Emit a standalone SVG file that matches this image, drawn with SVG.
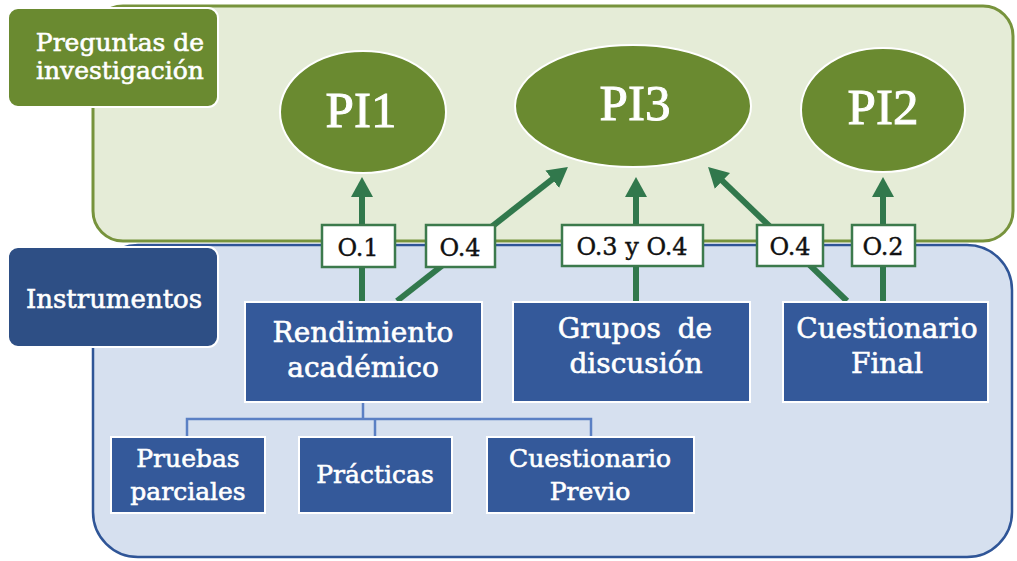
<svg xmlns="http://www.w3.org/2000/svg" width="1017" height="561" viewBox="0 0 1017 561">
<style>
.panelG{fill:#e5ecd7;stroke:#77933c;stroke-width:3}
.panelB{fill:#d6e0ef;stroke:#2f5597;stroke-width:2.5}
.lblG{fill:#6a8a30;stroke:#fff;stroke-width:2}
.lblB{fill:#2e4f85;stroke:#fff;stroke-width:2}
.ell{fill:#6a8a30;stroke:#fff;stroke-width:2}
.box{fill:#34599a;stroke:#fff;stroke-width:2}
.obox{fill:#fff;stroke:#3c7a4c;stroke-width:2.5}
.arrow{stroke:#31784c;stroke-width:6;fill:none;marker-end:url(#ah)}
.thin{stroke:#5b80c4;stroke-width:2.5;fill:none}
.tw{fill:#fff;stroke:#fff;stroke-width:0.6;font-family:"DejaVu Serif","Liberation Serif",serif;text-anchor:middle}
.big{fill:#fff;stroke:#fff;stroke-width:1;font-family:"Liberation Serif",serif;font-size:51px;text-anchor:middle}
.to{fill:#111;stroke:#111;stroke-width:0.4;font-family:"DejaVu Serif","Liberation Serif",serif;font-size:24px;text-anchor:middle}
</style>
<defs>
<marker id="ah" markerUnits="userSpaceOnUse" markerWidth="22" markerHeight="24" refX="8" refY="12" orient="auto" viewBox="0 0 22 24">
<path d="M0,1 L20,12 L0,23 Z" fill="#31784c"/>
</marker>
</defs>
<g id="panel-instrumentos">
<rect class="panelB" x="93" y="245" width="919" height="312" rx="45" ry="45"/>
</g>
<g id="panel-preguntas">
<rect class="panelG" x="93" y="6" width="920" height="235" rx="30" ry="30"/>
</g>
<g id="label-preguntas">
<rect class="lblG" x="8" y="8" width="210" height="99" rx="10" ry="10"/>
<text class="tw" x="120" y="51" font-size="25">Preguntas de</text>
<text class="tw" x="120" y="79" font-size="25">investigación</text>
</g>
<g id="label-instrumentos">
<rect class="lblB" x="8" y="247" width="210" height="100" rx="10" ry="10"/>
<text class="tw" x="114" y="308" font-size="26">Instrumentos</text>
</g>
<g id="PI1">
<ellipse class="ell" cx="363" cy="112" rx="83" ry="61"/>
<text class="big" x="361" y="127">PI1</text>
</g>
<g id="PI3">
<ellipse class="ell" cx="633" cy="106" rx="118" ry="61"/>
<text class="big" x="635" y="120">PI3</text>
</g>
<g id="PI2">
<ellipse class="ell" cx="883" cy="110" rx="82" ry="62"/>
<text class="big" x="883" y="124">PI2</text>
</g>
<g id="connectors">
<line class="arrow" x1="362" y1="302" x2="362" y2="189"/>
<line class="arrow" x1="397" y1="301" x2="558.5" y2="174.3"/>
<line class="arrow" x1="636" y1="302" x2="636" y2="189"/>
<line class="arrow" x1="847" y1="301" x2="716.7" y2="175.3"/>
<line class="arrow" x1="883" y1="302" x2="883" y2="189"/>
<path class="thin" d="M363,402 V419 M187,437 V419 H591 V437 M375,419 V437"/>
</g>
<g id="O1">
<rect class="obox" x="322" y="225" width="73" height="42"/>
<text class="to" x="358" y="256">O.1</text>
</g>
<g id="O4a">
<rect class="obox" x="426" y="225" width="69" height="42"/>
<text class="to" x="460" y="256">O.4</text>
</g>
<g id="O3yO4">
<rect class="obox" x="562" y="225" width="141" height="41"/>
<text class="to" x="632" y="255">O.3 y O.4</text>
</g>
<g id="O4b">
<rect class="obox" x="757" y="225" width="66" height="41"/>
<text class="to" x="790" y="255">O.4</text>
</g>
<g id="O2">
<rect class="obox" x="852" y="225" width="63" height="41"/>
<text class="to" x="883" y="255">O.2</text>
</g>
<g id="rendimiento">
<rect class="box" x="245" y="302" width="237" height="100"/>
<text class="tw" x="363" y="342" font-size="28">Rendimiento</text>
<text class="tw" x="363" y="377" font-size="28">académico</text>
</g>
<g id="grupos">
<rect class="box" x="513" y="302" width="237" height="100"/>
<text class="tw" x="635" y="338" font-size="28" word-spacing="8">Grupos de</text>
<text class="tw" x="636" y="373" font-size="28">discusión</text>
</g>
<g id="cuestionario-final">
<rect class="box" x="783" y="302" width="205" height="100"/>
<text class="tw" x="887" y="338" font-size="28">Cuestionario</text>
<text class="tw" x="887" y="373" font-size="28">Final</text>
</g>
<g id="pruebas">
<rect class="box" x="111" y="437" width="154" height="76"/>
<text class="tw" x="188" y="467" font-size="25">Pruebas</text>
<text class="tw" x="188" y="500" font-size="25">parciales</text>
</g>
<g id="practicas">
<rect class="box" x="299" y="437" width="153" height="76"/>
<text class="tw" x="375" y="483" font-size="25">Prácticas</text>
</g>
<g id="cuestionario-previo">
<rect class="box" x="487" y="437" width="207" height="76"/>
<text class="tw" x="590" y="467" font-size="25">Cuestionario</text>
<text class="tw" x="590" y="500" font-size="25">Previo</text>
</g>
</svg>
